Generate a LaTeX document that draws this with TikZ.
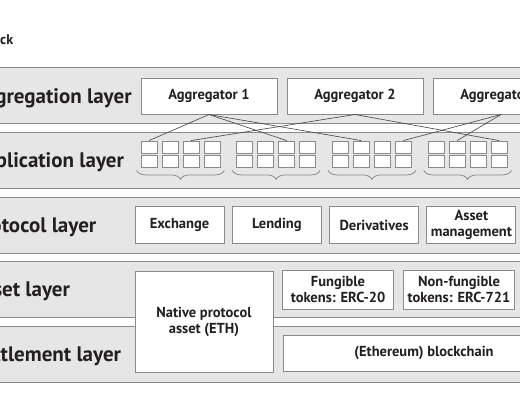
\documentclass[tikz,border=0pt]{standalone}
\usepackage{fontspec}
\setmainfont{PT Sans}
\usetikzlibrary{positioning,decorations.pathreplacing}
\definecolor{bandgray}{HTML}{E6E6E6}
\definecolor{rulegray}{HTML}{8A8A8A}
\definecolor{inkgray}{HTML}{231F20}

\begin{document}
\begin{tikzpicture}[x=1pt,y=-1pt,
    band/.style={fill=bandgray,draw=rulegray,line width=1pt},
    box/.style={draw=rulegray,fill=white,line width=1pt,inner sep=0pt,align=center,
      text=inkgray,font=\bfseries\fontsize{14.5}{16}\selectfont},
    cell/.style={draw=rulegray,fill=white,line width=0.8pt,inner sep=0pt,
      minimum width=16pt,minimum height=12pt},
    link/.style={draw=inkgray!85,line width=0.6pt},
    lbl/.style={anchor=west,inner sep=0pt,text=inkgray,font=\bfseries\fontsize{21}{24}\selectfont},
    curly/.style={draw=rulegray,line width=0.8pt,decorate,
      decoration={brace,mirror,amplitude=9pt}}]
    \useasboundingbox (0,0) rectangle (520,400);
    \clip (0,0) rectangle (520,400);
    \node[anchor=west,inner sep=0pt,text=inkgray,font=\bfseries\fontsize{14}{17}\selectfont] (title) at (0,40) {ck};
    \foreach \t/\name [count=\i] in {67.5/Aggregation layer,132/Application layer,
      197/Protocol layer,261/Asset layer,326/Settlement layer}{
      \draw[band] (-20,\t) rectangle (580,\t+56);
      \node[lbl] (layer\i) at (-28.5,\t+30.5) {\name};
    }
    \node[box,minimum width=136pt,minimum height=36pt] (agg1) at (209,96) {Aggregator 1};
    \node[box,minimum width=136pt,minimum height=36pt,right=9pt of agg1] (agg2) {Aggregator 2};
    \node[box,minimum width=136pt,minimum height=36pt,right=9pt of agg2] (agg3) {Aggregator 3};
    \foreach \g in {0,...,3}{
      \foreach \r in {0,1}{
        \foreach \c in {0,...,3}{
          \node[cell] (s\g-\r-\c) at (149+95.7*\g+21*\c,147+14*\r) {};
        }
      }
      \draw[curly] ([shift={(-4,3)}]s\g-1-0.south west) -- ([shift={(4,3)}]s\g-1-3.south east);
    }
    \draw[link] (agg1.south) -- (s0-0-0.north);
    \draw[link] (agg1.south) -- (s1-0-2.north);
    \draw[link] (agg1.south) -- (s2-0-1.north);
    \draw[link] (agg2.south) -- (s0-0-2.north);
    \draw[link] (agg2.south) -- (s3-0-3.north);
    \draw[link] (agg3.south) -- (s2-0-3.north);
    \draw[link] (agg3.south) -- (s3-0-1.north);
    \node[box,minimum width=89pt,minimum height=36.5pt] (exch) at (179.5,225) {Exchange};
    \node[box,minimum width=89pt,minimum height=36.5pt,right=7.3pt of exch] (lend) {Lending};
    \node[box,minimum width=89pt,minimum height=36.5pt,right=7.3pt of lend] (deriv) {Derivatives};
    \node[box,minimum width=89pt,minimum height=36.5pt,right=7.3pt of deriv] (mgmt) {Asset\\management};
    \node[box,minimum width=138pt,minimum height=101.5pt] (eth) at (204,322) {Native protocol\\asset (ETH)};
    \node[box,minimum width=110.5pt,minimum height=39pt] (erc20) at (338,289.7) {Fungible\\tokens: ERC-20};
    \node[box,minimum width=110.5pt,minimum height=39pt,right=9.5pt of erc20] (erc721) {Non-fungible\\tokens: ERC-721};
    \node[box,minimum width=282pt,minimum height=36.5pt] (chain) at (424,353.3) {(Ethereum) blockchain};
\end{tikzpicture}
\end{document}
